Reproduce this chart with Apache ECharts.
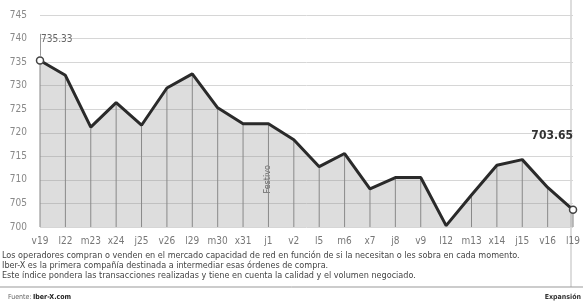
<!DOCTYPE html>
<html>
<head>
<meta charset="utf-8">
<script src="https://cdn.jsdelivr.net/npm/echarts@6/dist/echarts.min.js"></script>
<style>
  html, body { margin: 0; padding: 0; background: #fff; }
  #chart { width: 583px; height: 305px; }
</style>
</head>
<body>
<div id="chart"></div>
<script>
const days = ['v19', 'l22', 'm23', 'x24', 'j25', 'v26', 'l29', 'm30', 'x31', 'j1', 'v2',
    'l5', 'm6', 'x7', 'j8', 'v9', 'l12', 'm13', 'x14', 'j15', 'v16', 'l19'];
const index = [735.33, 732.2, 721.2, 726.4, 721.6, 729.5, 732.5, 725.3, 721.9, 721.9, 718.5,
    712.8, 715.6, 708.1, 710.5, 710.5, 700.3, 706.8, 713.1, 714.3, 708.4, 703.65];
const yTicks = [700, 705, 710, 715, 720, 725, 730, 735, 740, 745];
const notes = [
    'Los operadores compran o venden en el mercado capacidad de red en función de si la necesitan o les sobra en cada momento.',
    'Iber-X es la primera compañía destinada a intermediar esas órdenes de compra.',
    'Este índice pondera las transacciones realizadas y tiene en cuenta la calidad y el volumen negociado.',
];

const font = '"Liberation Sans Narrow", "DejaVu Sans Condensed", "Liberation Sans", sans-serif';
const last = index.length - 1;

// first and last points get the small open circle
const lineData = index.map((v, i) => ({
    value: v,
    symbol: i === 0 || i === last ? 'circle' : 'none',
}));

const chart = echarts.init(document.getElementById('chart'));
chart.setOption({
    animation: false,
    backgroundColor: '#fff',
    grid: {left: 40, right: 6, top: 15, bottom: 78},
    xAxis: {
        type: 'category',
        data: days,
        boundaryGap: false,
        axisLine: {show: false},
        axisTick: {show: false},
        splitLine: {show: false},
        axisLabel: {color: '#777', fontSize: 10, fontFamily: font, margin: 9, interval: 0},
    },
    yAxis: {
        type: 'value',
        min: yTicks[0],
        max: yTicks[yTicks.length - 1],
        interval: 5,
        axisLine: {show: false},
        axisTick: {show: false},
        axisLabel: {color: '#888', fontSize: 10, fontFamily: font, margin: 13},
        splitLine: {lineStyle: {color: '#d6d6d6', width: 1}},
    },
    series: [
        {
            // vertical rules under the curve, one per day
            type: 'bar',
            data: index,
            barWidth: 1,
            itemStyle: {color: '#888'},
            z: 3,
            silent: true,
        },
        {
            type: 'line',
            data: lineData,
            symbolSize: 7,
            itemStyle: {color: '#fff', borderColor: '#444', borderWidth: 1.5},
            lineStyle: {color: '#2a2a2a', width: 3},
            areaStyle: {color: 'rgba(140,140,140,0.42)', origin: 'start'},
            z: 4,
            markLine: {
                silent: true,
                symbol: 'none',
                label: {show: false},
                lineStyle: {color: '#999', width: 1, type: 'solid'},
                data: [[{coord: [days[0], index[0] + 1]}, {coord: [days[0], 741]}]],
            },
            markPoint: {
                silent: true,
                symbolSize: 0,
                data: [
                    {
                        coord: [days[0], 739.9],
                        label: {show: true, formatter: index[0].toFixed(2), position: 'right',
                            color: '#666', fontSize: 10, fontFamily: font, distance: 1},
                    },
                    {
                        coord: [days[last], 719.3],
                        label: {show: true, formatter: index[last].toFixed(2), position: 'left',
                            color: '#333', fontSize: 12, fontWeight: 'bold', fontFamily: font, distance: 0},
                    },
                ],
            },
        },
    ],
    graphic: [
        {
            type: 'text', left: 263, top: 165, rotation: Math.PI / 2,
            style: {text: 'Festivo', fill: '#555', font: '9px ' + font},
        },
        {type: 'line', shape: {x1: 571, y1: 0, x2: 571, y2: 287}, style: {stroke: '#bbb', lineWidth: 1}},
        {type: 'text', left: 2, top: 251, style: {text: notes[0], fill: '#444', font: '9px ' + font}},
        {type: 'text', left: 2, top: 261, style: {text: notes[1], fill: '#444', font: '9px ' + font}},
        {type: 'text', left: 2, top: 271, style: {text: notes[2], fill: '#444', font: '9px ' + font}},
        {type: 'line', shape: {x1: 0, y1: 287, x2: 583, y2: 287}, style: {stroke: '#999', lineWidth: 1}},
        {type: 'text', left: 8, top: 294, style: {text: 'Fuente:', fill: '#666', font: '7px ' + font}},
        {type: 'text', left: 33, top: 294, style: {text: 'Iber-X.com', fill: '#222', font: 'bold 7px ' + font}},
        {type: 'text', right: 2, top: 294, style: {text: 'Expansión', fill: '#333', font: 'bold 7px ' + font}},
    ],
});
</script>
</body>
</html>
